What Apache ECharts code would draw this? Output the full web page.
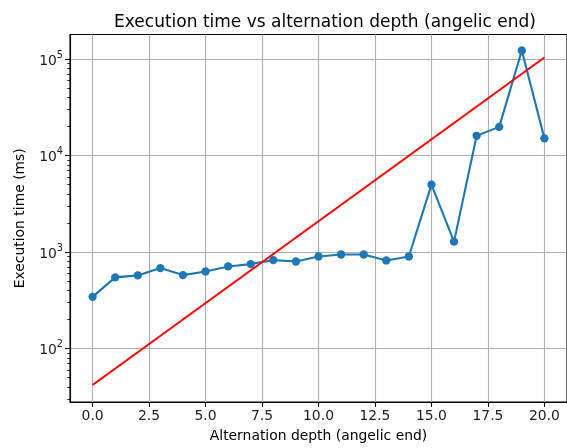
<!DOCTYPE html>
<html>
<head>
<meta charset="utf-8">
<script src="https://cdn.jsdelivr.net/npm/echarts@6/dist/echarts.min.js"></script>
<style>html,body{margin:0;padding:0;background:#fff}#c{width:567px;height:448px}</style>
</head>
<body>
<div id="c"></div>
<script>
const depths = [0,1,2,3,4,5,6,7,8,9,10,11,12,13,14,15,16,17,18,19,20];
const execTimes = [344,548,574,684,578,631,711,752,827,800,902,945,945,820,902,5000,1285,16060,19870,123000,15100];
const fitX = [0, 20];
const fitY = [42, 104000];
const xTicks = [0,2.5,5,7.5,10,12.5,15,17.5,20];
const yTicks = [100,1000,10000,100000];
const yMinorTicks = [30,40,50,60,70,80,90,200,300,400,500,600,700,800,900,2000,3000,4000,5000,6000,7000,8000,9000,20000,30000,40000,50000,60000,70000,80000,90000];

const FONT = 'DejaVu Sans';
const chart = echarts.init(document.getElementById('c'), null, {renderer:'canvas'});
const xMin = -1, xMax = 21, yMin = 28, yMax = 180000;
chart.setOption({
  animation: false,
  title: {
    text: 'Execution time vs alternation depth (angelic end)',
    left: 320, top: 9, textAlign: 'center',
    textStyle: {fontFamily: FONT, fontSize: 17, fontWeight: 'normal', color: '#000'}
  },
  grid: {left: 70, top: 34.5, right: -3, bottom: 43, containLabel: false, show: true,
    borderColor: '#000', borderWidth: 1.1, backgroundColor: 'transparent'},
  xAxis: {
    type: 'value', min: xMin, max: xMax,
    name: 'Alternation depth (angelic end)', nameLocation: 'middle', nameGap: 27,
    nameTextStyle: {fontFamily: FONT, fontSize: 13.9, color: '#000'},
    axisLine: {show: true, onZero: false, lineStyle: {color: '#000', width: 1.1}},
    axisTick: {show: true, inside: false, length: 4.9, customValues: xTicks, lineStyle: {color: '#000', width: 1.1}},
    axisLabel: {customValues: xTicks, margin: 7, fontFamily: FONT, fontSize: 13.9, color: '#222',
      formatter: v => v.toFixed(1)},
    splitLine: {show: true, customValues: xTicks, lineStyle: {color: '#b0b0b0', width: 1.1}}
  },
  yAxis: [{
    type: 'log', logBase: 10, min: yMin, max: yMax,
    name: 'Execution time (ms)', nameLocation: 'middle', nameGap: 43,
    nameTextStyle: {fontFamily: FONT, fontSize: 13.9, color: '#000'},
    axisLine: {show: true, onZero: false, lineStyle: {color: '#000', width: 1.1}},
    axisTick: {show: true, length: 4.9, customValues: yTicks, lineStyle: {color: '#000', width: 1.1}},
    axisLabel: {customValues: yTicks, margin: 7, color: '#222',
      formatter: v => '{b|10}{s|' + Math.round(Math.log10(v)) + '}',
      rich: {
        b: {fontFamily: FONT, fontSize: 13.9, color: '#222', lineHeight: 18, verticalAlign: 'bottom'},
        s: {fontFamily: FONT, fontSize: 9.7, color: '#222', lineHeight: 18, verticalAlign: 'top', padding: [0,0,8,0]}
      }},
    splitLine: {show: true, customValues: yTicks, lineStyle: {color: '#b0b0b0', width: 1.1}}
  }, {
    type: 'log', logBase: 10, min: yMin, max: yMax, position: 'left', offset: 0,
    axisLine: {show: false, onZero: false},
    axisTick: {show: true, length: 2.8, customValues: yMinorTicks, lineStyle: {color: '#000', width: 0.8}},
    axisLabel: {show: false},
    splitLine: {show: false}
  }],
  series: [{
    type: 'line',
    data: depths.map((d, i) => [d, execTimes[i]]),
    yAxisIndex: 0,
    symbol: 'circle', symbolSize: 8.3,
    itemStyle: {color: '#1f77b4'},
    lineStyle: {color: '#1f77b4', width: 2.1},
    z: 3
  }, {
    type: 'line',
    data: fitX.map((d, i) => [d, fitY[i]]),
    yAxisIndex: 0,
    symbol: 'none',
    lineStyle: {color: '#ff0000', width: 2.1},
    z: 4
  }]
});
</script>
</body>
</html>
